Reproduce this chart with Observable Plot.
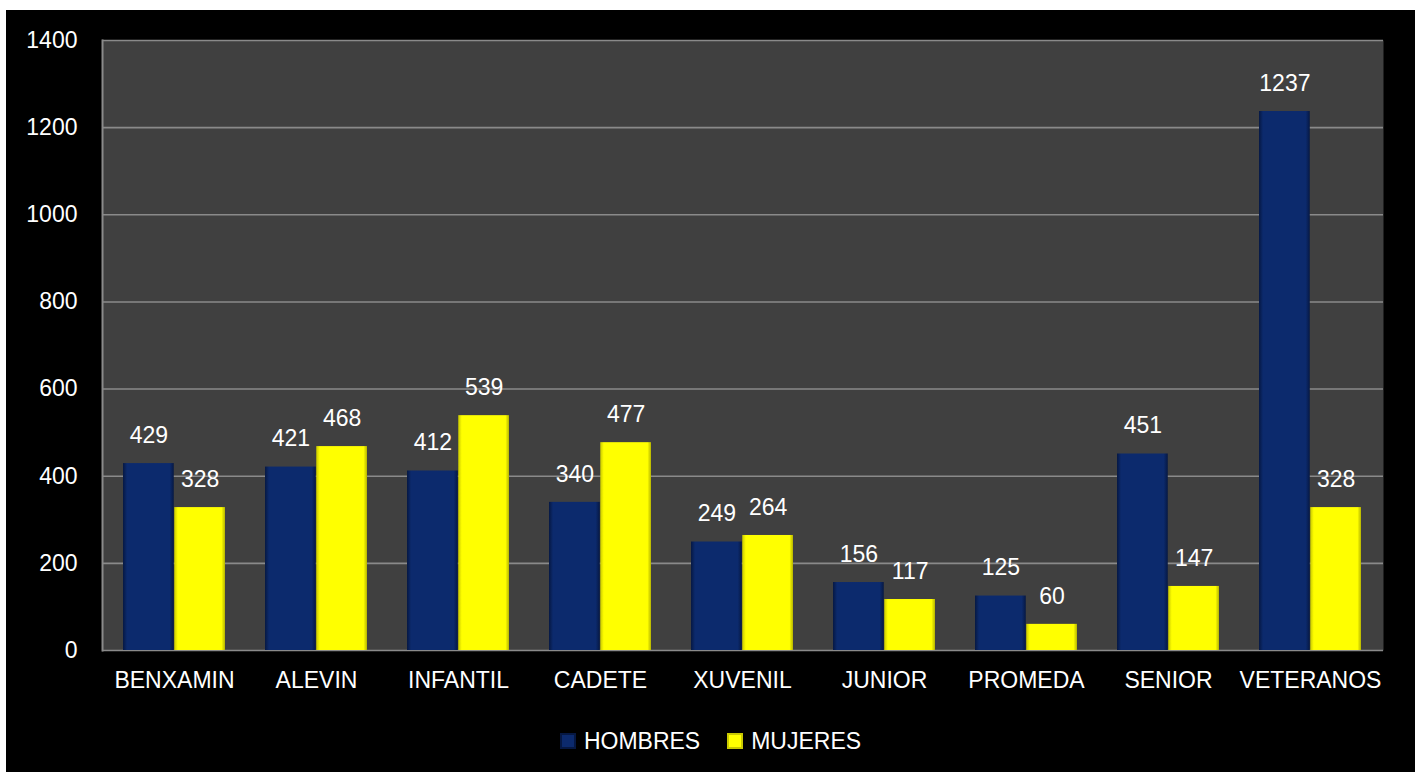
<!DOCTYPE html>
<html><head><meta charset="utf-8">
<script src="https://cdn.jsdelivr.net/npm/d3@7"></script>
<script src="https://cdn.jsdelivr.net/npm/@observablehq/plot@0.6"></script>
<style>
html,body{margin:0;padding:0;background:#fff;}
#box{position:absolute;left:6px;top:10px;width:1409px;height:762px;background:#000;font-family:"Liberation Sans",Arial,sans-serif;}
#chart{position:absolute;left:0;top:0;}
#legend{position:absolute;left:0;right:0;top:719px;height:24px;display:flex;justify-content:center;align-items:center;color:#fff;font-size:23px;}
.item{display:flex;align-items:center;}
.sw{width:16px;height:16px;margin-right:8px;box-sizing:border-box;}
</style>
</head><body>
<svg width="0" height="0" style="position:absolute">
  <defs>
    <linearGradient id="gBlue" x1="0" x2="1" y1="0" y2="0">
      <stop offset="0" stop-color="#061843"/>
      <stop offset="0.08" stop-color="#0c2a6d"/>
      <stop offset="0.92" stop-color="#0c2a6d"/>
      <stop offset="1" stop-color="#061843"/>
    </linearGradient>
    <linearGradient id="gYellow" x1="0" x2="1" y1="0" y2="0">
      <stop offset="0" stop-color="#c9c900"/>
      <stop offset="0.07" stop-color="#ffff00"/>
      <stop offset="0.93" stop-color="#ffff00"/>
      <stop offset="1" stop-color="#b5b500"/>
    </linearGradient>
  </defs>
</svg>
<div id="box">
  <div id="chart"></div>
  <div id="legend"></div>
</div>
<script>
const categories = ["BENXAMIN","ALEVIN","INFANTIL","CADETE","XUVENIL","JUNIOR","PROMEDA","SENIOR","VETERANOS"];
const hombres = [429,421,412,340,249,156,125,451,1237];
const mujeres = [328,468,539,477,264,117,60,147,328];
const seriesNames = ["HOMBRES","MUJERES"];
const seriesColors = ["#0c2a6d","#ffff00"];
const yTicks = [0,200,400,600,800,1000,1200,1400];

const hData = categories.map((c,i)=>({cat:c, value:hombres[i]}));
const mData = categories.map((c,i)=>({cat:c, value:mujeres[i]}));

const W=1409, H=705, mL=96, mR=32, mT=30, mB=65;
const step=(W-mL-mR)/categories.length;
const bw=step*0.72;
const half=bw/2;
const font='"Liberation Sans", Arial, sans-serif';

const chart = Plot.plot({
  width:W, height:H, marginLeft:mL, marginRight:mR, marginTop:mT, marginBottom:mB,
  style:{background:"transparent", color:"#fff", fontFamily:font, fontSize:"23px"},
  x:{domain:categories, paddingInner:0.28, paddingOuter:0.14, label:null, tickSize:0, tickPadding:21},
  y:{domain:[0,1400], ticks:yTicks, tickFormat:d=>String(d), label:null, tickSize:0, tickPadding:25},
  marks:[
    Plot.frame({fill:"#404040", stroke:null}),
    Plot.ruleY(yTicks, {stroke:"#8a8a8a", strokeWidth:1.6}),
    Plot.frame({anchor:"left", stroke:"#8a8a8a", strokeWidth:2}),
    Plot.barY(hData, {x:"cat", y:"value", fill:"url(#gBlue)", insetRight:half}),
    Plot.barY(mData, {x:"cat", y:"value", fill:"url(#gYellow)", insetLeft:half}),
    Plot.text(hData, {x:"cat", y:"value", text:d=>String(d.value), dx:-bw/4, dy:-28, fill:"#fff", fontSize:23}),
    Plot.text(mData, {x:"cat", y:"value", text:d=>String(d.value), dx:bw/4, dy:-28, fill:"#fff", fontSize:23})
  ]
});
document.getElementById("chart").appendChild(chart);

const legend = document.getElementById("legend");
seriesNames.forEach((n,i)=>{
  const it=document.createElement("div"); it.className="item";
  if(i>0) it.style.marginLeft="27px";
  const sw=document.createElement("div"); sw.className="sw";
  sw.style.background = seriesColors[i];
  sw.style.border = "2px solid " + (i===0 ? "#061843" : "#c9c900");
  const t=document.createElement("span"); t.textContent=n;
  it.appendChild(sw); it.appendChild(t); legend.appendChild(it);
});
</script>
</body></html>
